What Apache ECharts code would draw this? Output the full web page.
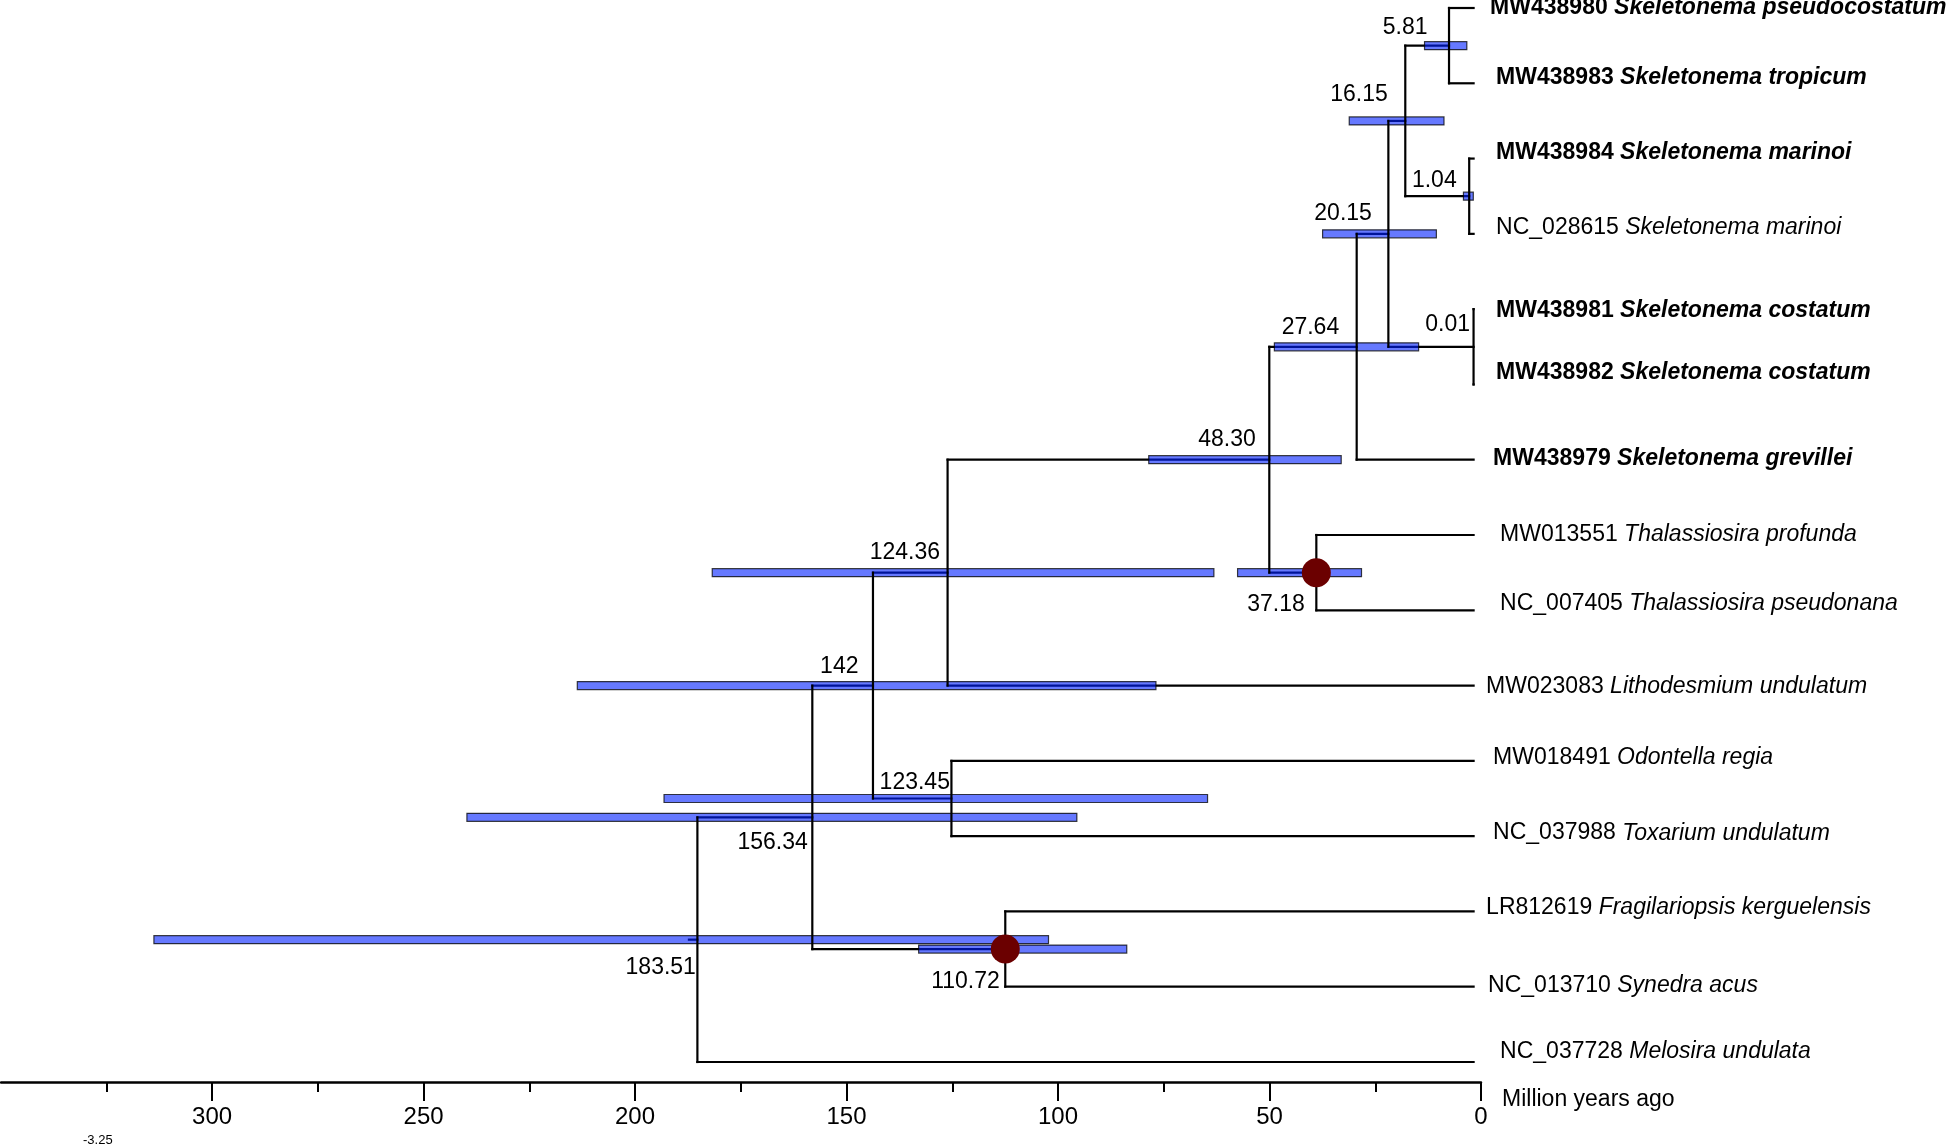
<!DOCTYPE html>
<html><head><meta charset="utf-8">
<script src="https://cdn.jsdelivr.net/npm/echarts@6/dist/echarts.min.js"></script>
<style>html,body{margin:0;padding:0;background:#fff}#c{width:1946px;height:1146px}</style>
</head><body><div id="c"></div>
<script>
// ---------- data ----------
const leafIds = ['MW438980','MW438983','MW438984','NC_028615','MW438981','MW438982','MW438979','MW013551','NC_007405','MW023083','MW018491','NC_037988','LR812619','NC_013710','NC_037728'];
const leafSpecies = ['Skeletonema pseudocostatum','Skeletonema tropicum','Skeletonema marinoi','Skeletonema marinoi','Skeletonema costatum','Skeletonema costatum','Skeletonema grevillei','Thalassiosira profunda','Thalassiosira pseudonana','Lithodesmium undulatum','Odontella regia','Toxarium undulatum','Fragilariopsis kerguelensis','Synedra acus','Melosira undulata'];
const leafBold = [1,1,1,0,1,1,1,0,0,0,0,0,0,0,0];

const nodeLabels  = ['5.81','1.04','16.15','0.01','20.15','27.64','37.18','48.30','124.36','123.45','142','110.72','156.34','183.51'];
const nodeHeights = [5.81, 1.04, 16.15, 0.01, 20.15, 27.64, 37.18, 48.30, 124.36, 123.45, 142, 110.72, 156.34, 183.51];
const nodeChildren = [['L0','L1'],['L2','L3'],['N0','N1'],['L4','L5'],['N2','N3'],['N4','L6'],['L7','L8'],['N5','N6'],['N7','L9'],['L10','L11'],['N8','N9'],['L12','L13'],['N10','N11'],['N12','L14']];
const hpdLow  = [1.6, 0.07, 7.0, null, 8.8, 13.0, 26.5, 31.3, 61.4, 62.9, 75.1, 82.0, 93.8, 100.5];
const hpdHigh = [11.6, 2.4, 29.4, null, 35.7, 47.1, 55.8, 76.8, 180.0, 191.4, 211.9, 131.2, 238.0, 312.0];
const markedNodes = [6, 11];
const rootBranch = 2;
const tickValues = [0, 50, 100, 150, 200, 250, 300];

// ---------- styles ----------
const leafLabelDx = [16,22,22,22,22,22,19,26,26,12,19,19,12,14,26];
const leafLabelDy = [0,-6,-6,-6,2,-12,-1,0,-7,1,-3,-3,-4,-1,-10];
const nodeLabelOff = [[-21,-18],[-12,-16],[-17,-26],[-3,-22],[-16,-20],[-17,-19],[-11,32],[-13,-20],[-7,-20],[-1,-16],[-14,-19],[-5,33],[-4,25],[-1,28]];
const FONT = 'Liberation Sans, Arial, sans-serif';

// ---------- tree layout ----------
const nodeY = [];
function yOf(ref){ return ref[0]==='L' ? +ref.slice(1) : nodeY[+ref.slice(1)]; }
function hOf(ref){ return ref[0]==='L' ? 0 : nodeHeights[+ref.slice(1)]; }
for (let i=0;i<nodeHeights.length;i++){
  const ys = nodeChildren[i].map(yOf);
  nodeY[i] = (Math.min(...ys)+Math.max(...ys))/2;
}
const horiz = [], vert = [], bars = [];
nodeChildren.forEach((ch,i)=>{
  const ys = ch.map(yOf);
  vert.push([nodeHeights[i], Math.min(...ys), Math.max(...ys)]);
  ch.forEach(c=>horiz.push([nodeHeights[i], hOf(c), yOf(c)]));
  if (hpdLow[i]!=null) bars.push([hpdLow[i], hpdHigh[i], nodeY[i]]);
});
const root = nodeHeights.length-1;
horiz.push([nodeHeights[root]+rootBranch, nodeHeights[root], nodeY[root]]);

const chart = echarts.init(document.getElementById('c'), null, {renderer:'canvas'});
const option = {
  backgroundColor:'#fff',
  animation:false,
  grid:{left:1, right:465, top:8, bottom:84},
  xAxis:[{
    type:'value', inverse:true, min:0, max:349.9, position:'bottom', offset:20,
    axisLine:{show:true, onZero:false, lineStyle:{color:'#000', width:2.5}},
    axisTick:{show:true, customValues:tickValues, length:19, lineStyle:{color:'#000', width:2}},
    minorTick:{show:true, splitNumber:2, length:10, lineStyle:{color:'#000', width:2}},
    axisLabel:{customValues:tickValues, fontSize:24, color:'#000', margin:23, fontFamily:FONT},
    splitLine:{show:false}, minorSplitLine:{show:false}
  },{
    type:'value', inverse:true, min:-1.75, max:348.15, show:false
  }],
  yAxis:{type:'value', inverse:true, min:0, max:14, show:false},
  graphic:[
    {type:'text', left:1502, top:1088, style:{text:'Million years ago', fontSize:23, fontFamily:FONT, fill:'#000'}},
    {type:'text', left:83, top:1134, style:{text:'-3.25', fontSize:13, fontFamily:FONT, fill:'#000'}}
  ],
  series:[
    {type:'custom', xAxisIndex:1, z:2, data:horiz, encode:{x:[0,1], y:2}, silent:true,
      renderItem:(p,api)=>{
        const a=api.coord([api.value(0),api.value(2)]), b=api.coord([api.value(1),api.value(2)]);
        return {type:'line', shape:{x1:a[0],y1:a[1],x2:b[0],y2:b[1]}, style:{stroke:'#000', lineWidth:2.2, lineCap:'square'}};
      }},
    {type:'custom', xAxisIndex:1, z:3, data:bars, encode:{x:[0,1], y:2}, silent:true,
      renderItem:(p,api)=>{
        const a=api.coord([api.value(0),api.value(2)]), b=api.coord([api.value(1),api.value(2)]);
        const x=Math.min(a[0],b[0]), w=Math.abs(a[0]-b[0]);
        return {type:'rect', shape:{x:x, y:a[1]-4, width:w, height:8}, style:{fill:'rgba(0,32,255,0.6)', stroke:'rgba(0,0,0,0.75)', lineWidth:1.2}};
      }},
    {type:'custom', xAxisIndex:1, z:4, data:vert, encode:{x:0, y:[1,2]}, silent:true,
      renderItem:(p,api)=>{
        const a=api.coord([api.value(0),api.value(1)]), b=api.coord([api.value(0),api.value(2)]);
        return {type:'line', shape:{x1:a[0],y1:a[1],x2:b[0],y2:b[1]}, style:{stroke:'#000', lineWidth:2.2, lineCap:'square'}};
      }},
    {type:'scatter', xAxisIndex:1, z:5, symbol:'circle', symbolSize:29, silent:true,
      itemStyle:{color:'#6b0000', opacity:1},
      data:markedNodes.map(i=>[nodeHeights[i], nodeY[i]])},
    {type:'scatter', xAxisIndex:1, z:6, symbolSize:1, silent:true, itemStyle:{color:'rgba(0,0,0,0)', opacity:1},
      data:leafIds.map((id,i)=>({value:[0,i], label:{offset:[leafLabelDx[i], leafLabelDy[i]]}})),
      label:{show:true, position:'right', distance:0, fontSize:23, fontFamily:FONT, color:'#000', opacity:1,
        formatter:(p)=>{const i=p.dataIndex; return leafBold[i] ? '{b|'+leafIds[i]+' }{bi|'+leafSpecies[i]+'}' : '{n|'+leafIds[i]+' }{i|'+leafSpecies[i]+'}';},
        rich:{
          b:{fontSize:23, fontFamily:FONT, fontWeight:'bold', color:'#000'},
          bi:{fontSize:23, fontFamily:FONT, fontWeight:'bold', fontStyle:'italic', color:'#000'},
          n:{fontSize:23, fontFamily:FONT, color:'#000'},
          i:{fontSize:23, fontFamily:FONT, fontStyle:'italic', color:'#000'}
        }}},
    {type:'scatter', xAxisIndex:1, z:6, symbolSize:1, silent:true, itemStyle:{color:'rgba(0,0,0,0)', opacity:1},
      data:nodeLabels.map((t,i)=>({value:[nodeHeights[i], nodeY[i]], name:t, label:{offset:nodeLabelOff[i]}})),
      label:{show:true, position:'left', distance:0, align:'right', verticalAlign:'middle', fontSize:23, fontFamily:FONT, color:'#000', opacity:1,
        formatter:(p)=>p.name}}
  ]
};
chart.setOption(option);
</script>
</body></html>
